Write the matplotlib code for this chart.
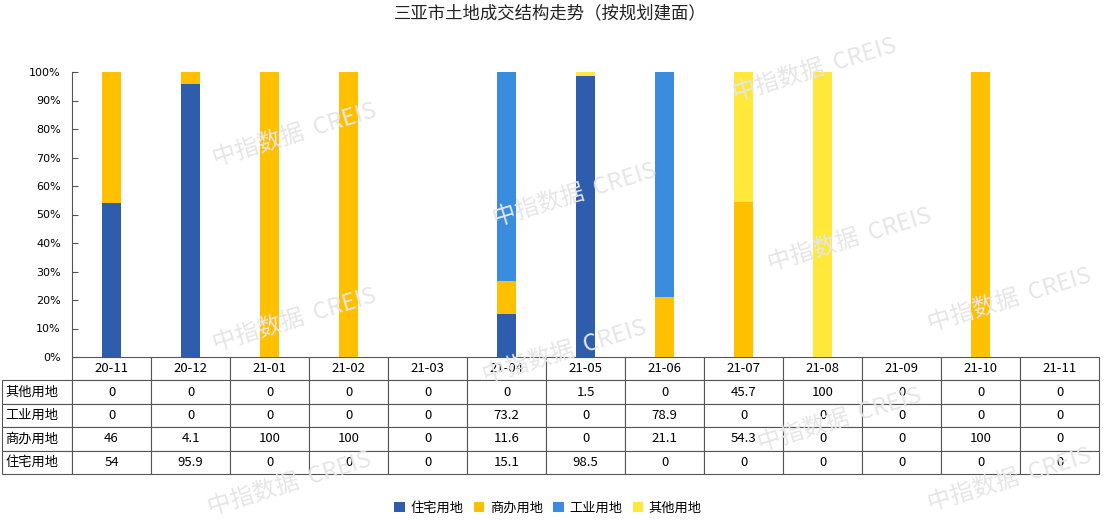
import matplotlib
matplotlib.use("Agg")
import matplotlib.pyplot as plt
import numpy as np

plt.rcParams["font.family"] = ["Noto Sans CJK SC", "DejaVu Sans"]

months = ["20-11", "20-12", "21-01", "21-02", "21-03", "21-04", "21-05",
          "21-06", "21-07", "21-08", "21-09", "21-10", "21-11"]
# share of planned floor area (%), by land use
residential = [54, 95.9, 0, 0, 0, 15.1, 98.5, 0, 0, 0, 0, 0, 0]
commercial = [46, 4.1, 100, 100, 0, 11.6, 0, 21.1, 54.3, 0, 0, 100, 0]
industrial = [0, 0, 0, 0, 0, 73.2, 0, 78.9, 0, 0, 0, 0, 0]
other = [0, 0, 0, 0, 0, 0, 1.5, 0, 45.7, 100, 0, 0, 0]

series = [
    ("住宅用地", residential, "#2F5DAD"),
    ("商办用地", commercial, "#FFC000"),
    ("工业用地", industrial, "#3A8DDE"),
    ("其他用地", other, "#FFE83A"),
]

title = "三亚市土地成交结构走势（按规划建面）"

W, H = 1108, 520
fig = plt.figure(figsize=(W / 100, H / 100), dpi=100)

# plot area in pixels
x0, x1 = 72, 1099
y_top, y_bot = 72, 357
ax = fig.add_axes([x0 / W, 1 - y_bot / H, (x1 - x0) / W, (y_bot - y_top) / H])

# watermarks
wm = [(295, 135), (575, 195), (850, 240), (295, 320), (565, 352),
      (840, 420), (290, 484), (815, 70), (1010, 300), (1010, 480)]
for px, py in wm:
    fig.text(px / W, 1 - py / H, "中指数据  CREIS", fontsize=17, color="#e6e6e6",
             rotation=17, ha="center", va="center", zorder=0)

x = np.arange(len(months))
bottom = np.zeros(len(months))
for name, vals, color in series:
    vals = np.array(vals, dtype=float)
    ax.bar(x, vals, width=0.25, bottom=bottom, color=color, label=name, zorder=2)
    bottom += vals

ax.set_xlim(-0.5, len(months) - 0.5)
ax.set_ylim(0, 100)
ax.set_yticks(np.arange(0, 101, 10))
ax.set_yticklabels([f"{v}%" for v in range(0, 101, 10)], fontsize=8,
                   family="DejaVu Sans")
ax.tick_params(axis="y", direction="in", length=4, color="#555555", pad=8)
ax.set_xticks([])
for s in ["top", "right", "bottom"]:
    ax.spines[s].set_visible(False)
ax.spines["left"].set_color("#555555")
ax.patch.set_alpha(0)

# data table below the bars (first column holds the row labels)
rows = [series[3], series[2], series[1], series[0]]
cell_text = [[name] + [f"{v:g}" for v in vals] for name, vals, _ in rows]
col_w = 1 / len(months)
lab_w = (x0 - 2) / (x1 - x0)
tb_top, tb_bot = 357, 474
tbl = ax.table(
    cellText=cell_text,
    colLabels=[""] + months,
    colWidths=[lab_w] + [col_w] * len(months),
    cellLoc="center",
    bbox=[-lab_w, -(tb_bot - y_bot) / (y_bot - y_top),
          1 + lab_w, (tb_bot - tb_top) / (y_bot - y_top)],
)
tbl.auto_set_font_size(False)
tbl.set_fontsize(9.5)
for (r, c), cell in tbl.get_celld().items():
    cell.set_edgecolor("#555555")
    cell.set_linewidth(0.8)
    cell.set_facecolor("white")
    if c == 0:
        cell.get_text().set_ha("left")
        cell.PAD = 0.05
tbl[(0, 0)].set_visible(False)

fig.text(550 / W, 1 - 13 / H, title, fontsize=12.5, ha="center", va="center",
         color="#222222")

handles, labels = ax.get_legend_handles_labels()
fig.legend(handles, labels, loc="center", ncol=4,
           bbox_to_anchor=(548 / W, 1 - 508 / H), frameon=False,
           fontsize=9.5, handlelength=0.8, handleheight=0.8,
           handletextpad=0.4, columnspacing=0.8)

fig.savefig("out.png", dpi=100, facecolor="white")
